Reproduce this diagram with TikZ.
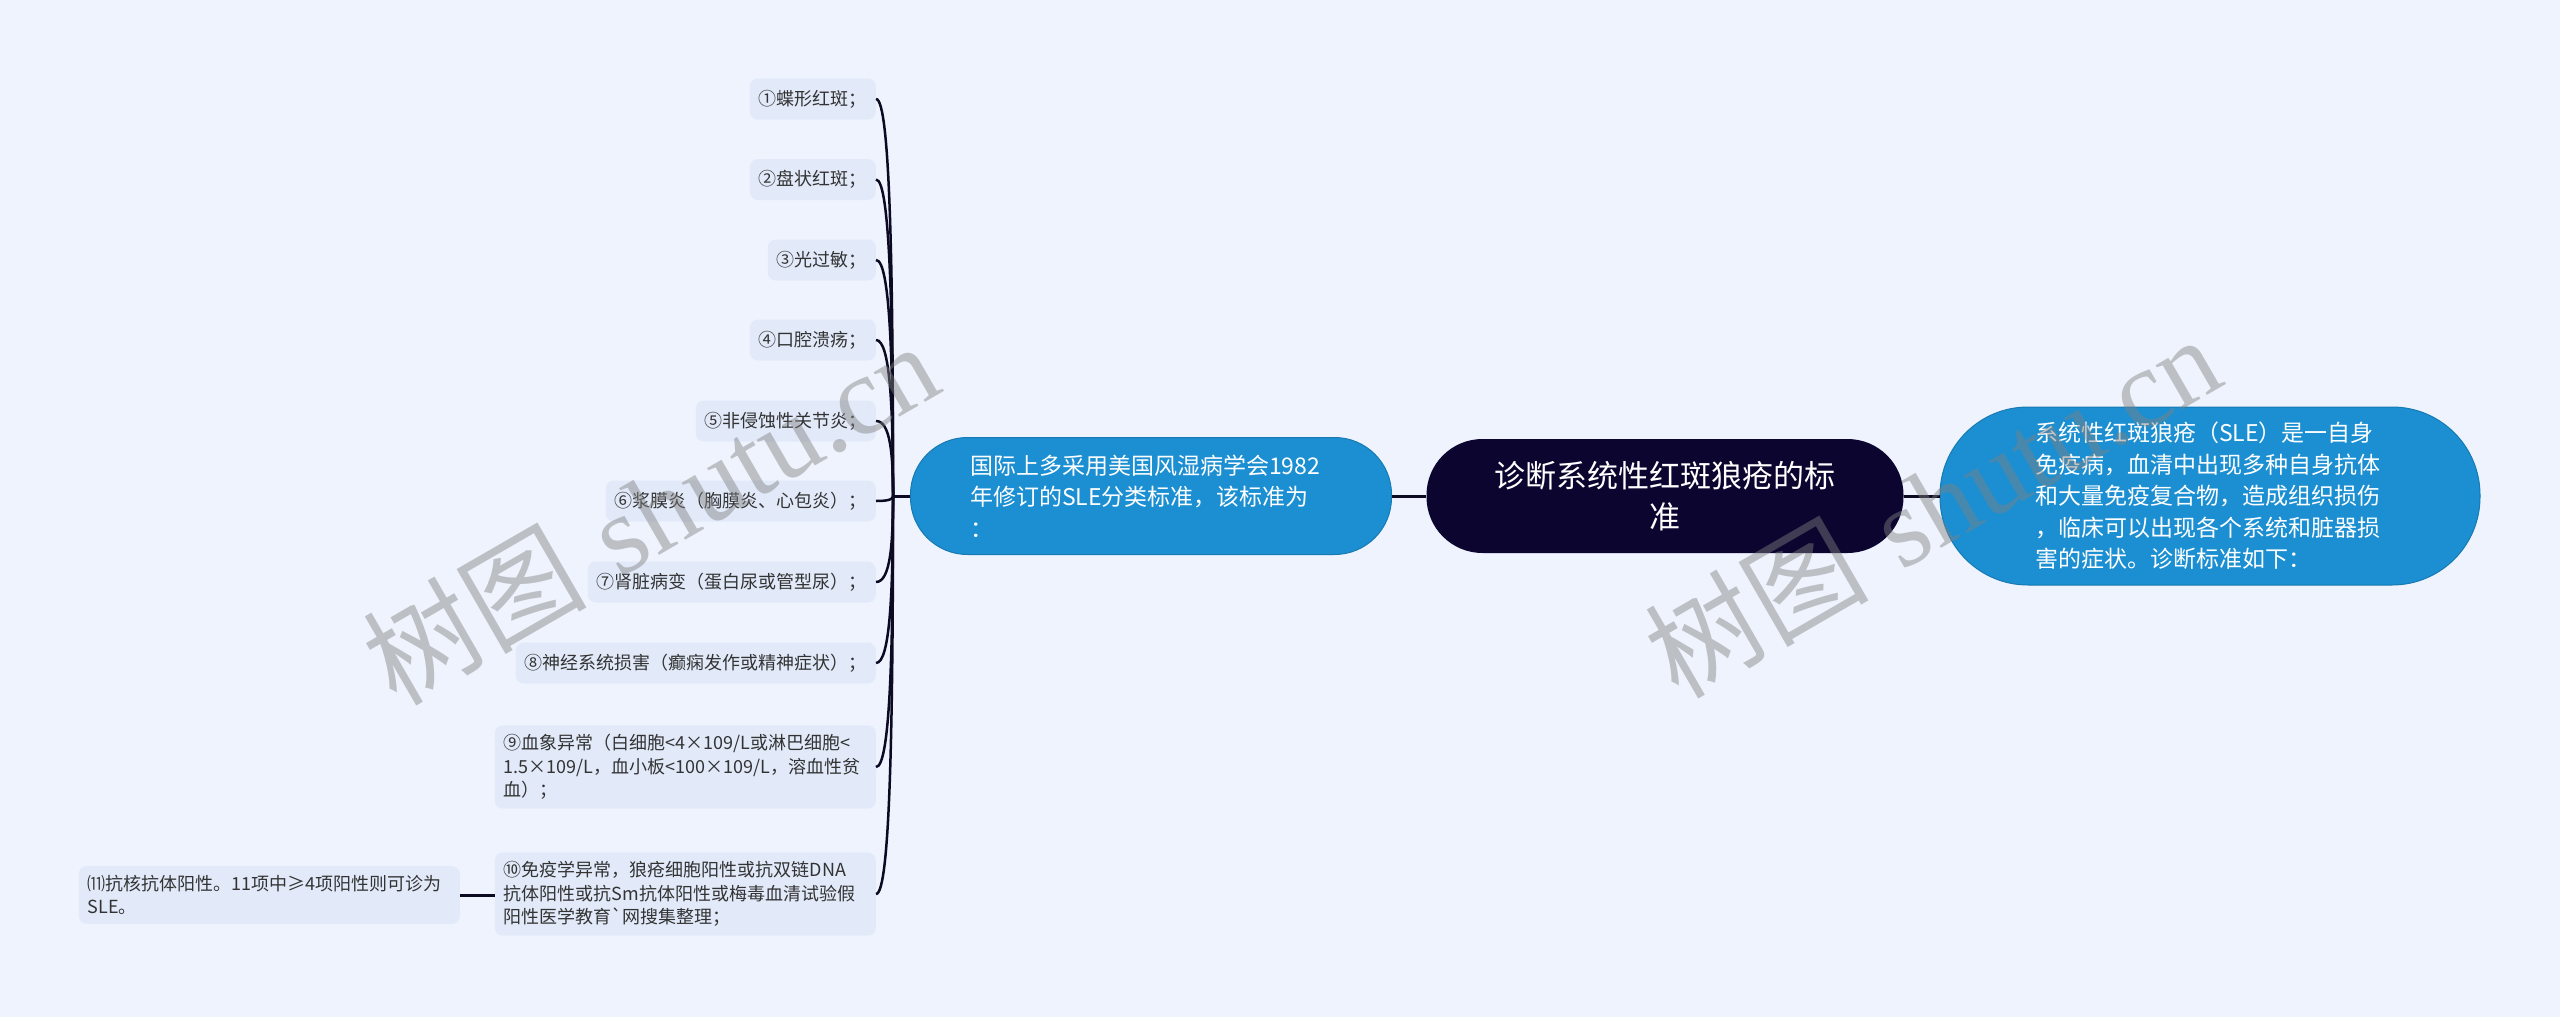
\documentclass[tikz,border=0pt]{standalone}
\usepackage{fontspec}
\newfontfamily\cjk{Noto Sans CJK SC}[Ligatures=TeXOff]
\newfontfamily\wmserif{Liberation Serif}
\usetikzlibrary{calc}
\definecolor{bgc}{HTML}{EEF3FD}
\definecolor{leafc}{HTML}{E2EAFA}
\definecolor{bluec}{HTML}{1B8FD2}
\definecolor{navyc}{HTML}{0B0530}
\definecolor{linec}{HTML}{0B0A22}
\definecolor{txtc}{HTML}{333333}
\begin{document}
\begin{tikzpicture}[x=1pt,y=-1pt,
  leaf/.style={fill=leafc, rounded corners=8pt, anchor=east, inner xsep=9pt, inner ysep=9pt,
    minimum height=41pt, font=\cjk\fontsize{18pt}{23.5pt}\selectfont, text=txtc, align=left},
  wide/.style={text width=363pt},
  bluebox/.style={fill=bluec, draw=bluec!85!black, line width=1pt, text=white, align=left,
    font=\cjk\fontsize{23pt}{31.5pt}\selectfont},
  link/.style={draw=linec, line width=3pt},
  curve/.style={draw=linec, line width=2.5pt},
  wm/.style={text=gray, opacity=0.45, rotate=30, inner sep=0pt}
]
\useasboundingbox (0,0) rectangle (2560,1017);
\fill[bgc] (0,0) rectangle (2560,1017);

% main nodes
\node[fill=navyc, text=white, align=center, minimum width=477pt, minimum height=114pt,
  rounded corners=56pt, font=\cjk\fontsize{31pt}{41pt}\selectfont] (ctr) at (1665,496)
  {诊断系统性红斑狼疮的标\\准};
\node[bluebox, minimum width=481pt, minimum height=117pt, rounded corners=57pt,
  text width=362pt] (lft) at (1151,496)
  {国际上多采用美国风湿病学会1982\\年修订的SLE分类标准，该标准为\\：};
\node[bluebox, minimum width=540pt, minimum height=178pt, rounded corners=88pt,
  text width=350pt] (rgt) at (2210,496)
  {系统性红斑狼疮（SLE）是一自身\\免疫病，血清中出现多种自身抗体\\和大量免疫复合物，造成组织损伤\\，临床可以出现各个系统和脏器损\\害的症状。诊断标准如下：};

% leaves
\node[leaf] (l1) at (876,99) {①蝶形红斑；};
\node[leaf] (l2) at (876,179.5) {②盘状红斑；};
\node[leaf] (l3) at (876,260) {③光过敏；};
\node[leaf] (l4) at (876,340) {④口腔溃疡；};
\node[leaf] (l5) at (876,421) {⑤非侵蚀性关节炎；};
\node[leaf] (l6) at (876,501) {⑥浆膜炎（胸膜炎、心包炎）；};
\node[leaf] (l7) at (876,582) {⑦肾脏病变（蛋白尿或管型尿）；};
\node[leaf] (l8) at (876,663) {⑧神经系统损害（癫痫发作或精神症状）；};
\node[leaf, wide] (l9) at (876,767) {⑨血象异常（白细胞<4×109/L或淋巴细胞<\\1.5×109/L，血小板<100×109/L，溶血性贫\\血）；};
\node[leaf, wide] (l10) at (876,894) {⑩免疫学异常，狼疮细胞阳性或抗双链DNA\\抗体阳性或抗Sm抗体阳性或梅毒血清试验假\\阳性医学教育`网搜集整理；};
\node[leaf, wide] (l11) at (460,895) {⑾抗核抗体阳性。11项中≥4项阳性则可诊为\\SLE。};

% connectors
\coordinate (J) at (893,496);
\foreach \n in {l1,l2,l3,l4,l5,l6,l7,l8,l9,l10}
  \draw[curve] (\n.east) .. controls ($(\n.east)!0.85!(J |- \n.east)$) and ($(J)!0.55!(J |- \n.east)$) .. (J);
\draw[link] (J) -- (lft.west);
\draw[link] (lft.east) -- (ctr.west);
\draw[link] (ctr.east) -- (rgt.west);
\draw[link] (l11.east) -- (l10.west |- l11.east);

% watermarks
\node[wm] (w1) at (650,512) {\fontsize{112pt}{112pt}\selectfont{\cjk 树图} {\wmserif shutu.cn}};
\node[wm] (w2) at (1932,505) {\fontsize{112pt}{112pt}\selectfont{\cjk 树图} {\wmserif shutu.cn}};
\end{tikzpicture}
\end{document}
